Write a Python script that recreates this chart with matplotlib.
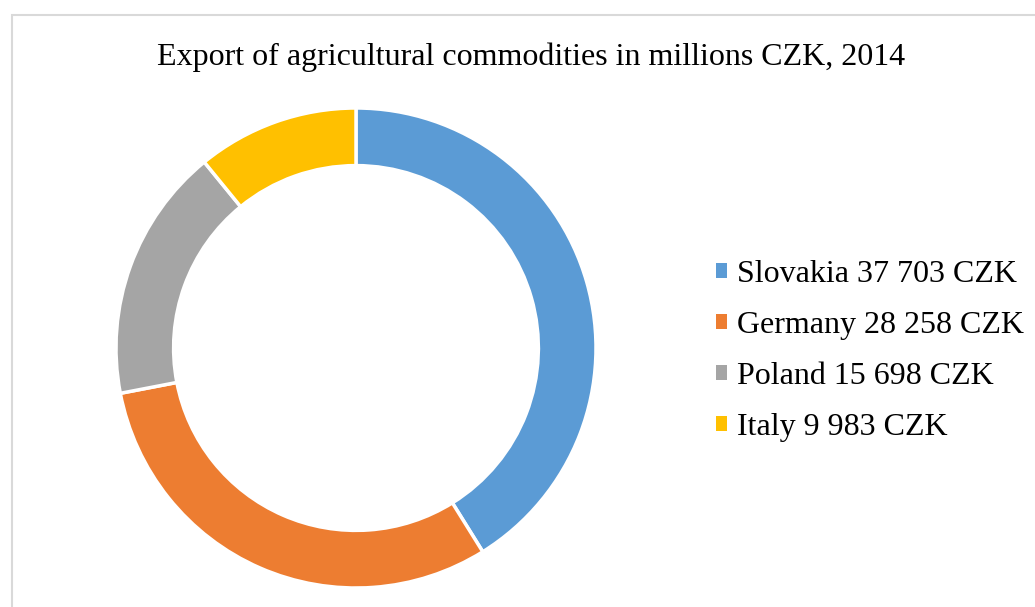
import matplotlib.pyplot as plt
from matplotlib.patches import Rectangle, Patch

countries = ["Slovakia", "Germany", "Poland", "Italy"]
labels = ["Slovakia 37 703 CZK", "Germany 28 258 CZK", "Poland 15 698 CZK", "Italy 9 983 CZK"]
values = [37703, 28258, 15698, 9983]
colors = ["#5B9BD5", "#ED7D31", "#A5A5A5", "#FFC000"]

plt.rcParams["font.family"] = ["Liberation Serif", "DejaVu Serif"]

W, H = 1035, 607
fig = plt.figure(figsize=(W / 100, H / 100), dpi=100)

# light grey chart frame (cut off at right/bottom like the screenshot)
fig.patches.append(Rectangle((11.5 / W, -0.1), 1.2, 1.1 - 15.5 / H, transform=fig.transFigure,
                             fill=False, edgecolor="#D9D9D9", linewidth=1.5))

cx, cy, r = 356, 348, 240
ax = fig.add_axes([(cx - r) / W, (H - cy - r) / H, 2 * r / W, 2 * r / H])
wedges, _ = ax.pie(values, colors=colors, startangle=90, counterclock=False,
                   wedgeprops=dict(width=0.24, edgecolor="white", linewidth=2.5))
ax.set_xlim(-1, 1)
ax.set_ylim(-1, 1)
ax.set_aspect("equal")

fig.text(531 / W, 1 - 57 / H, "Export of agricultural commodities in millions CZK, 2014",
         ha="center", va="center", fontsize=23)

handles = [Patch(facecolor=c, edgecolor="none") for c in colors]
fig.legend(handles, labels, loc="center left", bbox_to_anchor=(716 / W, 1 - 351 / H),
           frameon=False, fontsize=23, handlelength=0.33, handleheight=0.33,
           handletextpad=0.33, labelspacing=0.69, borderaxespad=0, borderpad=0)

fig.savefig("out.png", dpi=100)
